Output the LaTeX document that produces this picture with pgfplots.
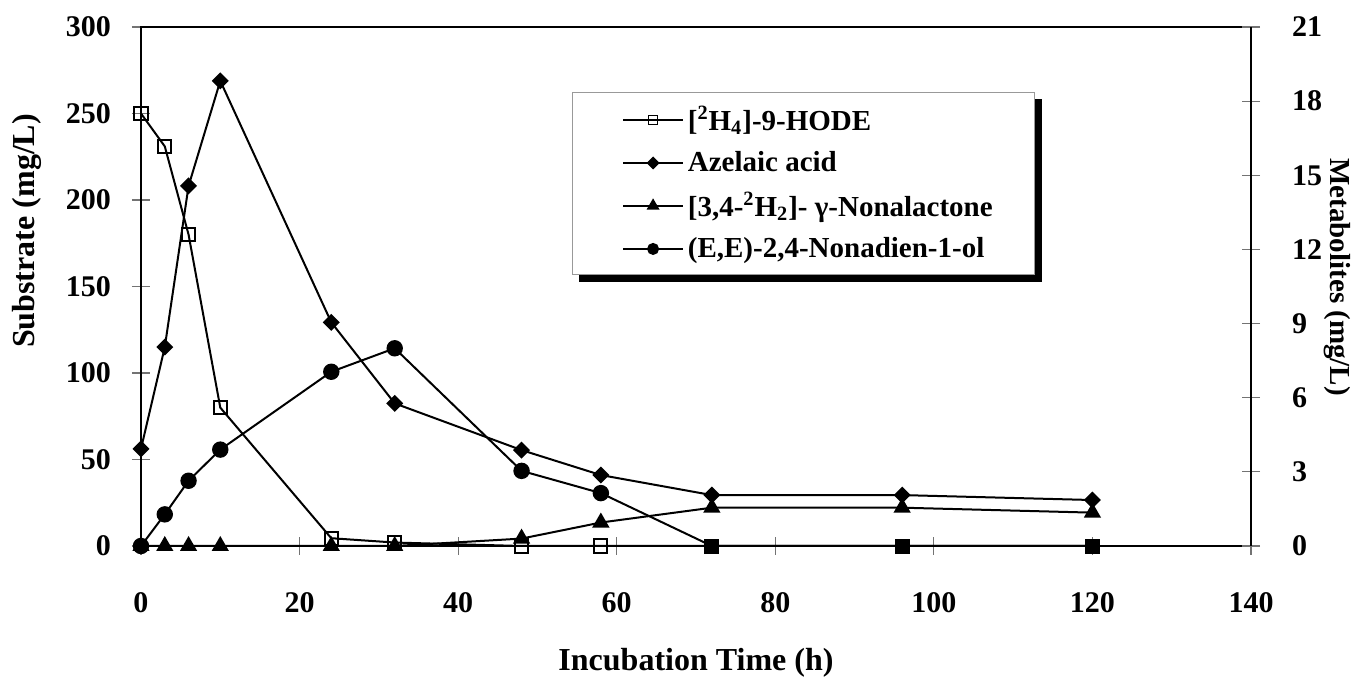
\documentclass[border=0pt]{standalone}
\usepackage{fontspec}
\setmainfont{Liberation Serif}
\usepackage{pgfplots}
\usepackage{pgfplotstable}
\pgfplotsset{compat=1.18}
\usetikzlibrary{shadows}

% keep the legend's drop shadow off the legend images
\makeatletter
\tikzset{no preactions/.code={\let\tikz@preactions=\pgfutil@empty}}
\makeatother

% substrate, left axis (mg/L)
\pgfplotstableread{
t hode
0 250
3 231
6 180
10 80
24 4.5
32 2
48 0
58 0
72 0
96 0
120 0
}\hode

% metabolites, right axis (mg/L)
\pgfplotstableread{
t aze lac nol
0 3.93 0 0
3 8.05 0 1.28
6 14.57 0 2.64
10 18.82 0 3.90
24 9.05 0 7.05
32 5.77 0 8.00
48 3.88 0.30 3.04
58 2.87 0.95 2.14
72 2.06 1.55 0
96 2.06 1.55 0
120 1.86 1.35 0
}\metab

\pgfplotsset{
  base/.style={
    width=555pt,height=259.5pt,scale only axis,
    xmin=0,xmax=140,
    tick align=center,
    major tick length=9pt,
    major tick style={black!55,line width=0.6pt},
    axis line style={black,line width=1pt},
    /pgf/number format/assume math mode=true,
    ticklabel style={font=\bfseries\fontsize{15}{15}\selectfont},
    label style={font=\bfseries\fontsize{16}{18}\selectfont},
  },
  ser/.style={black,line width=1pt,mark options={solid}},
}

\begin{document}
\begin{tikzpicture}
\begin{axis}[base,name=ax,
  ymin=0,ymax=300,ytick={0,50,...,300},
  xtick={0,20,...,140},
  xtick pos=bottom,ytick pos=left,
  xticklabel style={anchor=center,yshift=-24pt},
  yticklabel style={anchor=east,xshift=-7pt},
  xlabel={Incubation Time (h)},
  xlabel style={at={(axis description cs:0.5,-0.2254)},anchor=center},
  ylabel={Substrate (mg/L)},
  ylabel style={at={(axis description cs:-0.1027,0.607)},anchor=center},
]
\addplot[ser,mark=square,mark size=3.3pt,mark options={fill=white},mark indices={1,...,8}] table[x=t,y=hode]{\hode};
\addplot[black,only marks,mark=square*,mark size=3.5pt,mark indices={9,10,11}] table[x=t,y=hode]{\hode};
\end{axis}

\begin{axis}[base,
  ymin=0,ymax=21,ytick={0,3,...,21},
  axis x line=none,axis y line*=right,
  yticklabel style={anchor=west,xshift=12.5pt},
  ylabel={Metabolites (mg/L)},
  ylabel style={at={(axis description cs:1.0775,0.518)},anchor=center,rotate=180,font=\bfseries\fontsize{14.5}{16}\selectfont},
  legend cell align=left,
  legend image code/.code={\path (0pt,0pt); \draw[no preactions,mark repeat=2,mark phase=2,#1] plot coordinates {(6pt,0pt) (21pt,0pt) (36pt,0pt)};},
  legend style={at={(0.388,0.875)},anchor=north west,draw=black!40,line width=0.6pt,fill=white,
    drop shadow={shadow xshift=3.5pt,shadow yshift=-3.5pt,fill=black,opacity=1},
    font=\bfseries\fontsize{14.5}{16}\selectfont,inner xsep=19pt,inner ysep=5pt,row sep=5pt},
]
\addlegendimage{black,line width=0.8pt,mark=square,mark size=2.3pt,mark options={fill=white}}
\addlegendentry{[\textsuperscript{2}H\textsubscript{4}]-9-HODE}
\addlegendimage{black,line width=0.8pt,mark=square*,mark size=1.9pt,mark options={rotate=45}}
\addlegendentry{Azelaic acid}
\addlegendimage{black,line width=0.8pt,mark=triangle*,mark size=3pt}
\addlegendentry{[3,4-\textsuperscript{2}H\textsubscript{2}]- γ-Nonalactone}
\addlegendimage{black,line width=0.8pt,mark=*,mark size=2.6pt}
\addlegendentry{(E,E)-2,4-Nonadien-1-ol}

\addplot[ser,forget plot,mark=*,mark size=3.6pt,mark indices={1,...,8}] table[x=t,y=nol]{\metab};
\addplot[ser,forget plot,mark=triangle*,mark size=4pt] table[x=t,y=lac]{\metab};
\addplot[ser,forget plot,mark=square*,mark size=2.5pt,mark options={rotate=45}] table[x=t,y=aze]{\metab};
\end{axis}

\pgfresetboundingbox
\path ([xshift=-70.5pt,yshift=-69pt]ax.south west) rectangle ([xshift=51.5pt,yshift=13.5pt]ax.north east);
\end{tikzpicture}
\end{document}
